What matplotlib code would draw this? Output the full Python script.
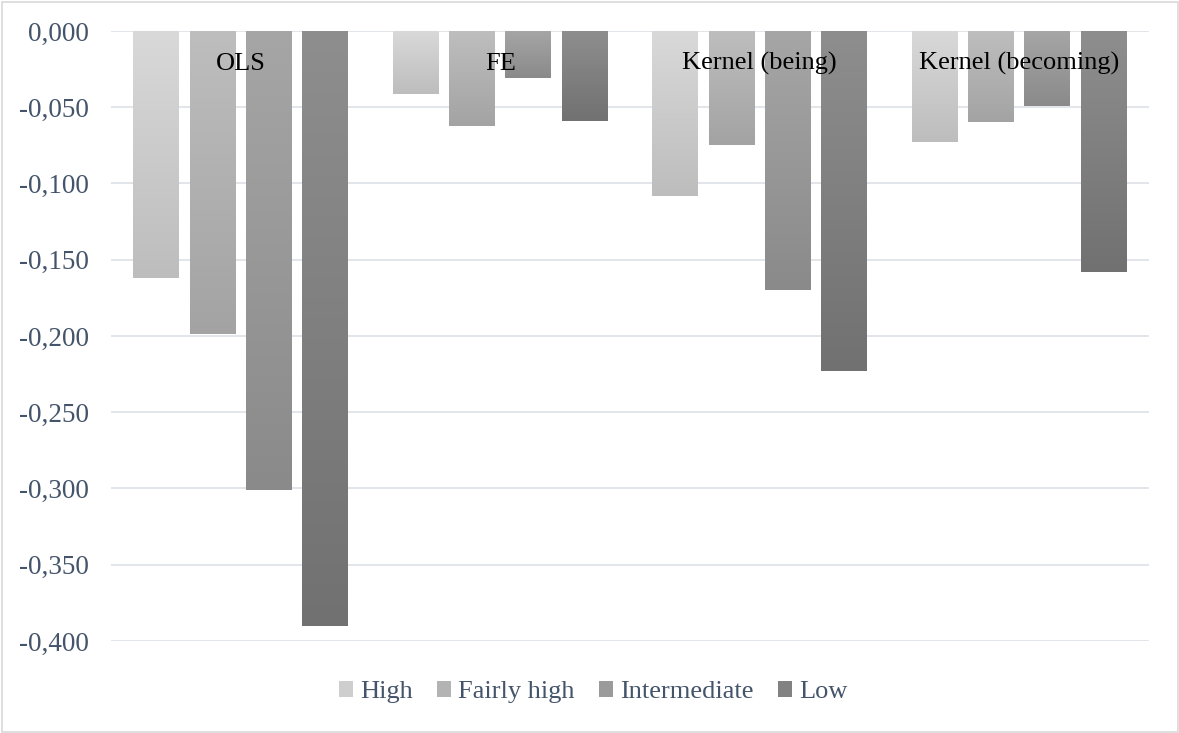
import numpy as np
import matplotlib
matplotlib.use("Agg")
import matplotlib.pyplot as plt
from matplotlib.colors import LinearSegmentedColormap
from matplotlib.patches import Patch, Rectangle

# Estimation methods (x categories) and income groups (series)
methods = ["OLS", "FE", "Kernel (being)", "Kernel (becoming)"]
series_names = ["High", "Fairly high", "Intermediate", "Low"]

high = [-0.162, -0.041, -0.108, -0.073]
fairly_high = [-0.199, -0.062, -0.075, -0.0595]
intermediate = [-0.301, -0.031, -0.170, -0.049]
low = [-0.390, -0.059, -0.223, -0.158]

yticks = [0.0, -0.05, -0.10, -0.15, -0.20, -0.25, -0.30, -0.35, -0.40]

# gradient endpoints (top of bar, far end of bar) for each series
gradients = [("#d9d9d9", "#bdbdbd"),
             ("#bebebe", "#a3a3a3"),
             ("#a6a6a6", "#8a8a8a"),
             ("#8e8e8e", "#717171")]

W, H = 1179, 733
fig = plt.figure(figsize=(W / 100, H / 100), dpi=100)
fig.patches.append(Rectangle((1.5 / W, 1.5 / H), 1 - 3 / W, 1 - 3 / H,
                             transform=fig.transFigure, fill=False,
                             edgecolor="#d9d9d9", linewidth=1.2))

left, right, top, bottom = 111, 1149, 31, 641
ax = fig.add_axes([left / W, 1 - bottom / H, (right - left) / W, (bottom - top) / H])

text_color = "#44546a"
serif = ["Liberation Serif", "DejaVu Serif"]

x = np.arange(len(methods))
step = 0.217
width = 0.177
all_series = [high, fairly_high, intermediate, low]

for i, (vals, (c_top, c_bot)) in enumerate(zip(all_series, gradients)):
    offs = (i - 1.5) * step
    bars = ax.bar(x + offs, vals, width=width, color=c_top, edgecolor="none", zorder=2)
    cmap = LinearSegmentedColormap.from_list(f"g{i}", [c_top, c_bot])
    grad = np.linspace(0, 1, 256).reshape(-1, 1)
    for b in bars:
        x0 = b.get_x()
        x1 = x0 + b.get_width()
        y0 = b.get_y()
        y1 = y0 + b.get_height()
        im = ax.imshow(grad, cmap=cmap, aspect="auto", origin="upper",
                       extent=[x0, x1, min(y0, y1), max(y0, y1)], zorder=3,
                       interpolation="bilinear")
        im.set_clip_path(b)

ax.set_xlim(-0.5, len(methods) - 0.5)
ax.set_ylim(-0.4, 0.0)
ax.set_yticks(yticks)
ax.set_yticklabels([f"{v:.3f}".replace(".", ",") if v != 0 else "0,000" for v in yticks],
                   fontsize=19.5, color=text_color, family=serif)
ax.tick_params(axis="y", length=0, pad=16)
ax.set_xticks([])
ax.grid(axis="y", color="#dfe3e8", linewidth=1.3, zorder=0)
ax.set_axisbelow(True)
for s in ax.spines.values():
    s.set_visible(False)

for xi, name in zip(x, methods):
    ax.annotate(name, xy=(xi, 0), xytext=(0, -23.5), textcoords="offset points",
                ha="center", va="center", fontsize=19, color="black",
                family=serif, zorder=5)

handles = [Patch(facecolor=(np.array(matplotlib.colors.to_rgb(a)) * 0.6 +
                            np.array(matplotlib.colors.to_rgb(b)) * 0.4),
                 edgecolor="none") for a, b in gradients]
fig.legend(handles, series_names, loc="center", bbox_to_anchor=(593 / W, 1 - 692 / H),
           ncol=4, frameon=False, prop={"family": serif, "size": 19},
           labelcolor=text_color, handlelength=0.55, handleheight=0.55,
           handletextpad=0.25, columnspacing=0.92, borderaxespad=0)

fig.savefig("out.png", dpi=100)
